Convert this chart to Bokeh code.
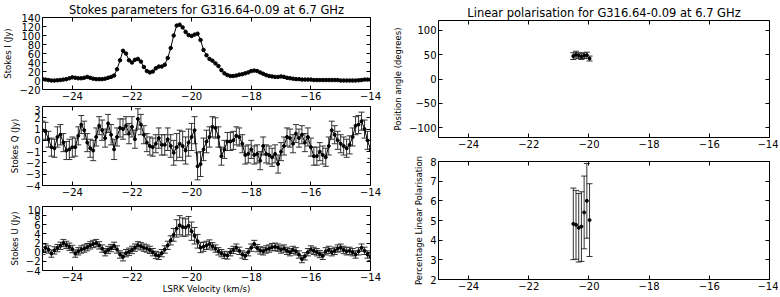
from bokeh.plotting import figure
from bokeh.models import (ColumnDataSource, Whisker, TeeHead, LinearAxis, FixedTicker,
                          CustomJSTickFormatter, Range1d)
from bokeh.layouts import row, column
from bokeh.embed import file_html
from bokeh.resources import INLINE

# ---------------- data ----------------
velocity = [
    -25.0, -24.9, -24.8, -24.7, -24.6, -24.5, -24.4, -24.3, -24.2, -24.1,
    -24.0, -23.9, -23.8, -23.7, -23.6, -23.5, -23.4, -23.3, -23.2, -23.1,
    -23.0, -22.9, -22.8, -22.7, -22.6, -22.5, -22.4, -22.3, -22.2, -22.1,
    -22.0, -21.9, -21.8, -21.7, -21.6, -21.5, -21.4, -21.3, -21.2, -21.1,
    -21.0, -20.9, -20.8, -20.7, -20.6, -20.5, -20.4, -20.3, -20.2, -20.1,
    -20.0, -19.9, -19.8, -19.7, -19.6, -19.5, -19.4, -19.3, -19.2, -19.1,
    -19.0, -18.9, -18.8, -18.7, -18.6, -18.5, -18.4, -18.3, -18.2, -18.1,
    -18.0, -17.9, -17.8, -17.7, -17.6, -17.5, -17.4, -17.3, -17.2, -17.1,
    -17.0, -16.9, -16.8, -16.7, -16.6, -16.5, -16.4, -16.3, -16.2, -16.1,
    -16.0, -15.9, -15.8, -15.7, -15.6, -15.5, -15.4, -15.3, -15.2, -15.1,
    -15.0, -14.9, -14.8, -14.7, -14.6, -14.5, -14.4, -14.3, -14.2, -14.1,
    -14.0]

stokes_i = [
    3, 2, 1, 0, 0, 0.5, 1, 2, 3, 5,
    7, 6, 5, 5, 6, 8, 6, 4, 3, 3,
    3, 4, 6, 8, 11, 25, 45, 66, 60, 45,
    40, 46, 48, 42, 30, 21, 18, 20, 27, 31,
    31, 35, 50, 72, 100, 122, 124, 118, 108, 101,
    99, 102, 104, 90, 68, 56, 48, 44, 38, 32,
    23, 16, 12, 10, 10, 11, 13, 14, 16, 18,
    21, 22, 21, 18, 15, 12, 10, 9, 8, 8,
    9, 8, 6, 5, 4, 3, 3, 2, 2, 2,
    2, 1, 1, 1, 1, 1, 1, 1, 1, 1,
    0, 0, 0, 0, 0, 0, 0.5, 1, 2, 2,
    2]

stokes_q = [
    0.9, 0.8, 0.1, -0.6, -0.7, 0.3, 0.5, -0.2, -0.9, -0.8,
    -0.6, -0.6, 0.4, 1.4, 0.9, -0.2, -0.7, -0.9, 0.3, 1.3,
    0.9, 0.2, 1.5, 0.5, -0.8, 0.3, 1.1, 1.0, 1.3, 0.6,
    1.2, 0.1, 1.9, 1.4, 0.5, -0.2, -0.5, -0.6, -0.3, 0.2,
    -0.4, -0.4, 0.1, -0.5, -1.1, -0.6, -0.3, -0.5, -0.9, -0.2,
    0.3, 0.9, -2.3, -2.1, -0.8, -0.1, 0.3, 1.2, 1.1, 0.3,
    -1.4, -0.8, -0.1, -0.1, 0.0, 0.4, 0.3, -0.3, -1.3, -1.2,
    -0.8, -1.3, -1.2, -1.8, -0.5, -1.2, -1.3, -1.5, -1.2, -2.1,
    -1.0, -0.5, 0.3, 0.2, -0.3, 0.6, 0.2, 0.5, -0.2, 0.3,
    -0.6, -1.4, -1.4, -1.0, -1.3, -1.5, -0.5, 0.9, 0.5, 0.0,
    -0.3, -0.5, -0.7, -0.4, 0.3, 1.3, 1.4, 1.7, 1.0, 0.0,
    -0.8]

stokes_q_err = [
    0.8, 0.8, 0.7, 0.8, 0.8, 0.9, 0.9, 0.8, 0.8, 0.9,
    0.9, 0.8, 0.8, 0.8, 0.8, 0.8, 0.8, 0.9, 0.8, 0.8,
    0.9, 0.8, 0.8, 0.9, 0.9, 0.8, 0.8, 0.9, 0.8, 0.9,
    0.9, 0.8, 0.9, 0.9, 0.8, 0.8, 0.8, 0.8, 0.8, 0.9,
    0.9, 0.9, 1.0, 1.0, 1.1, 1.2, 1.2, 1.3, 1.2, 1.2,
    1.2, 1.2, 1.2, 1.1, 1.0, 1.0, 0.9, 0.9, 0.9, 0.9,
    0.8, 0.8, 0.8, 0.8, 0.8, 0.8, 0.8, 0.8, 0.8, 0.8,
    0.8, 0.8, 0.8, 0.8, 0.8, 0.8, 0.8, 0.8, 0.8, 0.8,
    0.8, 0.8, 0.8, 0.8, 0.8, 0.8, 0.8, 0.8, 0.8, 0.8,
    0.8, 0.8, 0.8, 0.8, 0.8, 0.8, 0.8, 0.8, 0.8, 0.8,
    0.8, 0.8, 0.8, 0.8, 0.8, 0.8, 0.8, 0.8, 0.8, 0.8,
    0.8]

stokes_u = [
    0.3, 1.0, 0.6, -0.3, 0.4, 0.9, 1.4, 2.0, 1.6, 1.2,
    0.7, -0.3, 0.2, 0.6, 0.8, 1.1, 1.5, 1.8, 2.0, 1.5,
    0.8, 0.0, 0.5, 0.9, 1.4, 0.6, -0.5, -1.0, -0.2, 0.1,
    0.5, 1.0, 1.5, 1.3, 1.0, 0.8, 0.5, 0.0, -0.6, -0.8,
    -0.2, 0.6, 1.5, 2.6, 3.8, 5.2, 5.9, 5.5, 5.4, 5.8,
    4.6, 3.6, 2.4, 1.0, 1.2, 1.5, 1.8, 1.3, 0.8, 0.2,
    -0.2, -0.6, -0.7, 0.0, 0.5, 1.0, 0.3, -0.5, -0.8, 0.0,
    1.0, 1.8, 0.9, 0.4, 0.2, 0.6, 0.8, 1.1, 1.2, 1.0,
    0.6, 0.8, 0.3, 0.0, 0.5, 0.2, -0.5, -1.5, -0.9, 0.0,
    0.6, 0.3, 0.0, -0.4, -0.8, 0.2, 0.5, 0.0, 0.3, 0.8,
    1.0, 0.5, 0.2, 0.3, 0.0, -0.5, 0.2, 1.0, 0.3, -0.5,
    -1.0]

stokes_u_err = [
    0.8, 0.8, 0.8, 0.8, 0.8, 0.8, 0.8, 0.8, 0.8, 0.8,
    0.8, 0.8, 0.8, 0.8, 0.8, 0.8, 0.8, 0.8, 0.8, 0.8,
    0.8, 0.8, 0.8, 0.8, 0.8, 0.8, 0.8, 0.9, 0.8, 0.8,
    0.8, 0.8, 0.8, 0.8, 0.8, 0.8, 0.8, 0.8, 0.8, 0.8,
    0.8, 0.8, 0.9, 1.0, 1.4, 1.9, 2.1, 2.0, 1.9, 2.0,
    2.0, 1.8, 1.5, 1.1, 1.0, 0.9, 0.9, 0.8, 0.8, 0.8,
    0.8, 0.8, 0.8, 0.8, 0.8, 0.8, 0.8, 0.8, 0.8, 0.8,
    0.8, 0.8, 0.8, 0.8, 0.8, 0.8, 0.8, 0.8, 0.8, 0.8,
    0.8, 0.8, 0.8, 0.8, 0.8, 0.8, 0.8, 0.8, 0.8, 0.8,
    0.8, 0.8, 0.8, 0.8, 0.8, 0.8, 0.8, 0.8, 0.8, 0.8,
    0.8, 0.8, 0.8, 0.8, 0.8, 0.8, 0.8, 0.8, 0.8, 0.8,
    0.8]

pol_velocity = [-20.52, -20.43, -20.34, -20.25, -20.16, -20.07, -19.98]
pol_angle = [47, 50, 48, 46, 48, 49, 42]
pol_angle_err = [7, 7, 6, 6, 6, 6, 5]
pol_percent = [4.83, 4.78, 4.63, 4.69, 5.41, 6.00, 5.02]
pol_percent_err = [1.82, 1.75, 1.74, 1.77, 1.85, 1.90, 1.85]

x_ticks = [-24, -22, -20, -18, -16, -14]
i_ticks = [-20, 0, 20, 40, 60, 80, 100, 120, 140]
q_ticks = [-4, -3, -2, -1, 0, 1, 2, 3]
u_ticks = [-4, -2, 0, 2, 4, 6, 8, 10]
pa_ticks = [-100, -50, 0, 50, 100]
pp_ticks = [2, 3, 4, 5, 6, 7, 8]

title_left = "Stokes parameters for G316.64-0.09 at 6.7 GHz"
title_right = "Linear polarisation for G316.64-0.09 at 6.7 GHz"

# ---------------- styling helpers ----------------
FONT = "DejaVu Sans"
minus_fmt = "return tick.toString().replace('-', '\\u2212');"


def style_axis(ax, ticks, labels=True):
    ax.ticker = FixedTicker(ticks=ticks)
    ax.axis_line_color = None
    ax.major_tick_in = 4
    ax.major_tick_out = 0
    ax.major_tick_line_color = "black"
    ax.minor_tick_line_color = None
    ax.major_label_text_font = FONT
    ax.axis_label_text_font = FONT
    ax.axis_label_text_font_style = "normal"
    ax.axis_label_text_font_size = "8.5px"
    ax.axis_label_text_color = "black"
    ax.axis_label_standoff = 3
    if labels:
        ax.formatter = CustomJSTickFormatter(code=minus_fmt)
        ax.major_label_text_color = "black"
        ax.major_label_text_font_size = "10px"
        ax.major_label_standoff = 2
    else:
        ax.major_label_text_color = None
        ax.major_label_text_alpha = 0
        ax.major_label_text_font_size = "1px"
        ax.major_label_standoff = 0


def make_fig(w, h, yr, xt, yt, bl, br, bt, bb, ylabel, title=None, xlabel=None):
    p = figure(width=w, height=h, x_range=Range1d(-25, -14), y_range=Range1d(*yr),
               output_backend="svg", toolbar_location=None,
               min_border_left=bl, min_border_right=br,
               min_border_top=bt, min_border_bottom=bb)
    p.xgrid.visible = False
    p.ygrid.visible = False
    p.outline_line_color = "black"
    p.outline_line_width = 1
    p.outline_line_alpha = 1
    p.background_fill_color = "white"
    p.border_fill_color = "white"
    style_axis(p.xaxis[0], xt)
    style_axis(p.yaxis[0], yt)
    p.yaxis[0].axis_label = ylabel
    if xlabel:
        p.xaxis[0].axis_label = xlabel
        p.xaxis[0].axis_label_standoff = 0
    top = LinearAxis()
    style_axis(top, xt, labels=False)
    p.add_layout(top, "above")
    right = LinearAxis()
    style_axis(right, yt, labels=False)
    p.add_layout(right, "right")
    if title:
        p.title.text = title
        p.title.align = "center"
        p.title.text_font = FONT
        p.title.text_font_size = "11.5px"
        p.title.text_font_style = "normal"
        p.title.text_color = "black"
        p.title.standoff = 1
    return p


def add_err(p, src, base, val, lo, hi, dot=3, line=True):
    wh = Whisker(source=src, base=base, lower=lo, upper=hi, dimension="height",
                 line_color="#333333", line_width=1,
                 lower_head=TeeHead(size=6, line_color="#333333", line_width=1),
                 upper_head=TeeHead(size=6, line_color="#333333", line_width=1))
    p.add_layout(wh)
    if line:
        p.line(base, val, source=src, line_color="black", line_width=1)
    p.scatter(base, val, source=src, size=dot, color="black")


# ---------------- sources ----------------
src_i = ColumnDataSource(dict(v=velocity, y=stokes_i))
src_q = ColumnDataSource(dict(v=velocity, y=stokes_q,
                              lo=[a - e for a, e in zip(stokes_q, stokes_q_err)],
                              hi=[a + e for a, e in zip(stokes_q, stokes_q_err)]))
src_u = ColumnDataSource(dict(v=velocity, y=stokes_u,
                              lo=[a - e for a, e in zip(stokes_u, stokes_u_err)],
                              hi=[a + e for a, e in zip(stokes_u, stokes_u_err)]))
src_pa = ColumnDataSource(dict(v=pol_velocity, y=pol_angle,
                               lo=[a - e for a, e in zip(pol_angle, pol_angle_err)],
                               hi=[a + e for a, e in zip(pol_angle, pol_angle_err)]))
src_pp = ColumnDataSource(dict(v=pol_velocity, y=pol_percent,
                               lo=[a - e for a, e in zip(pol_percent, pol_percent_err)],
                               hi=[a + e for a, e in zip(pol_percent, pol_percent_err)]))

# ---------------- left column (390 wide) ----------------
LW = 390
fI = make_fig(LW, 105, (-20, 140), x_ticks, i_ticks, 36, 20, 12, 16,
              "Stokes I (Jy)", title=title_left)
fI.line("v", "y", source=src_i, line_color="black", line_width=1)
fI.scatter("v", "y", source=src_i, size=3.5, color="black")

fQ = make_fig(LW, 100, (-4, 3), x_ticks, q_ticks, 36, 20, 1, 20, "Stokes Q (Jy)")
add_err(fQ, src_q, "v", "y", "lo", "hi")

fU = make_fig(LW, 91, (-4, 10), x_ticks, u_ticks, 36, 20, 1, 24, "Stokes U (Jy)",
              xlabel="LSRK Velocity (km/s)")
add_err(fU, src_u, "v", "y", "lo", "hi")

# ---------------- right column (388 wide) ----------------
RW = 388
fPA = make_fig(RW, 150, (-120, 120), x_ticks, pa_ticks, 48, 9, 20, 13,
               "Position angle (degrees)", title=title_right)
add_err(fPA, src_pa, "v", "y", "lo", "hi", dot=3, line=False)

fPP = make_fig(RW, 146, (2, 8), x_ticks, pp_ticks, 48, 9, 11, 17,
               "Percentage Linear Polarisation")
add_err(fPP, src_pp, "v", "y", "lo", "hi", dot=3, line=False)

layout = row(column(fI, fQ, fU), column(fPA, fPP))

with open("out.html", "w") as f:
    f.write(file_html(layout, INLINE))
